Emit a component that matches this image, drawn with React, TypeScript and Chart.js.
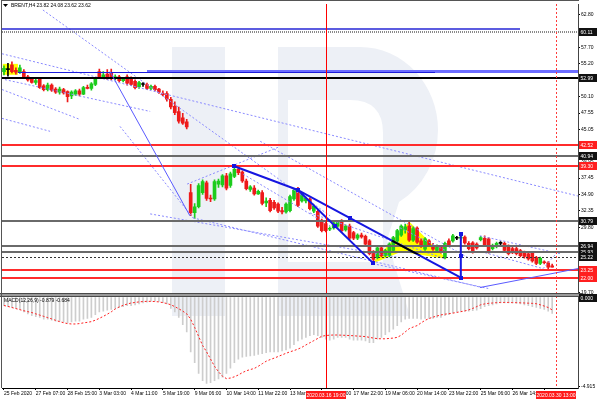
import React, { useEffect, useRef } from 'react';
import { Chart, registerables } from 'chart.js';

Chart.register(...registerables);

// ---------------- data ----------------
const opens = [
  54.0, 54.3, 55.0, 54.2, 53.9, 54.0, 53.2, 52.9, 52.3, 52.8,
  51.8, 51.2, 51.9, 51.3, 50.8, 51.2, 50.9, 50.2, 50.5, 51.0,
  50.5, 51.5, 51.4, 52.0, 54.0, 53.2, 53.6, 53.9, 52.9, 53.2,
  52.6, 53.2, 52.8, 52.5, 51.6, 52.0, 52.0, 51.4, 51.7, 51.3,
  50.6, 50.6, 49.7, 48.6, 47.8, 46.8, 46.2, 35.2, 32.1, 33.0,
  35.2, 36.7, 34.3, 34.2, 36.5, 36.4, 37.8, 36.3, 37.7, 38.8,
  38.4, 37.0, 35.7, 35.9, 35.0, 35.2, 33.6, 34.0, 33.7, 33.4,
  32.4, 32.2, 32.4, 34.2, 35.5, 33.9, 33.9, 34.2, 32.3, 32.3,
  30.8, 30.4, 29.5, 29.7, 30.0, 30.8, 29.4, 30.0, 29.0, 28.1,
  28.6, 28.4, 27.7, 25.9, 25.1, 26.6, 25.4, 25.4, 26.2, 27.7,
  28.6, 29.4, 30.0, 27.8, 29.7, 27.7, 26.4, 27.7, 27.0, 26.2,
  26.9, 25.1, 27.7, 27.7, 28.1, 28.1, 28.3, 27.3, 27.4, 27.2,
  27.9, 28.1, 28.0, 26.5, 26.8, 27.3, 27.3, 26.9, 26.5, 26.5,
  26.2, 25.8, 25.7, 25.8, 25.1, 24.2, 24.4, 24.3, 23.82,
];
const highs = [
  54.9, 55.3, 55.5, 54.6, 55.0, 54.3, 53.4, 53.1, 52.8, 53.0,
  52.0, 52.2, 52.1, 51.5, 51.6, 51.4, 51.0, 51.0, 51.2, 51.3,
  51.7, 51.9, 52.3, 53.0, 54.4, 54.0, 54.3, 54.4, 53.5, 53.4,
  53.0, 53.5, 53.2, 52.7, 52.5, 52.3, 52.2, 51.9, 51.9, 51.4,
  51.0, 50.9, 50.0, 49.3, 48.5, 47.5, 46.6, 36.5, 33.5, 36.6,
  37.2, 37.0, 34.8, 37.2, 37.3, 38.0, 38.2, 38.4, 39.3, 39.0,
  38.6, 37.3, 36.3, 36.3, 35.6, 35.5, 34.4, 34.3, 34.0, 33.6,
  32.9, 33.6, 34.8, 35.8, 36.0, 35.2, 34.5, 34.4, 33.3, 32.5,
  31.1, 30.7, 29.9, 30.7, 30.9, 31.0, 30.2, 30.3, 29.2, 28.8,
  28.9, 28.6, 27.9, 26.2, 26.9, 26.9, 26.4, 27.4, 28.4, 29.5,
  30.2, 30.3, 30.6, 29.9, 29.9, 28.0, 28.2, 27.9, 27.3, 27.1,
  27.0, 27.5, 28.0, 28.7, 28.4, 28.6, 28.5, 27.6, 27.6, 27.4,
  28.4, 28.5, 28.2, 27.2, 27.5, 27.6, 27.5, 27.1, 26.7, 26.7,
  26.4, 26.1, 25.9, 26.0, 25.3, 25.2, 24.6, 24.5, 24.08,
];
const lows = [
  53.5, 53.3, 53.8, 53.6, 53.7, 52.9, 52.5, 52.2, 52.0, 51.4,
  51.0, 51.0, 50.9, 50.6, 50.5, 50.5, 49.3, 49.8, 50.3, 50.2,
  50.4, 51.3, 51.1, 51.8, 52.9, 53.0, 52.8, 52.7, 52.7, 52.4,
  52.4, 51.9, 51.8, 51.3, 51.4, 51.7, 51.2, 51.2, 51.0, 50.6,
  50.2, 49.4, 48.2, 47.3, 46.0, 45.8, 45.1, 31.6, 31.2, 32.8,
  34.9, 34.0, 33.8, 34.0, 36.0, 36.1, 35.6, 36.0, 37.5, 38.0,
  36.8, 35.6, 35.4, 34.8, 34.9, 33.3, 33.0, 32.2, 32.6, 32.1,
  31.9, 32.0, 32.2, 34.0, 33.0, 33.7, 33.6, 32.5, 32.1, 29.8,
  29.1, 29.1, 29.3, 29.5, 29.8, 29.1, 29.2, 27.9, 27.9, 27.9,
  28.1, 27.0, 25.5, 24.3, 24.9, 25.2, 25.2, 25.2, 26.0, 27.5,
  28.4, 28.9, 27.6, 27.6, 27.3, 26.7, 26.2, 26.8, 26.2, 26.0,
  25.8, 24.9, 26.8, 27.5, 27.9, 27.8, 27.2, 26.3, 25.8, 26.4,
  27.7, 26.8, 25.8, 26.3, 26.6, 27.0, 26.0, 25.5, 25.7, 25.5,
  25.2, 25.0, 24.7, 24.4, 24.0, 24.0, 24.1, 23.4, 23.62,
];
const closes = [
  54.5, 54.3, 54.0, 53.9, 54.6, 53.1, 52.7, 52.3, 52.6, 51.5,
  51.2, 51.9, 51.1, 50.8, 51.3, 50.7, 50.1, 50.8, 51.0, 50.5,
  51.5, 51.4, 52.1, 52.8, 53.2, 53.5, 53.0, 52.9, 53.2, 52.6,
  52.8, 52.2, 52.0, 51.5, 52.3, 52.0, 51.4, 51.7, 51.2, 50.8,
  50.4, 49.7, 48.5, 47.6, 46.3, 46.0, 45.4, 32.1, 33.0, 36.3,
  36.9, 34.3, 34.2, 36.9, 37.0, 37.8, 35.9, 38.1, 38.8, 38.3,
  37.0, 35.8, 36.1, 35.0, 35.4, 33.5, 33.9, 32.4, 32.8, 32.3,
  32.2, 33.4, 34.6, 35.6, 33.2, 35.0, 34.3, 32.7, 33.1, 30.0,
  29.3, 29.3, 29.6, 30.5, 30.8, 29.3, 30.0, 28.1, 28.1, 28.6,
  28.3, 27.2, 25.7, 24.8, 26.6, 25.4, 26.2, 27.2, 28.2, 29.3,
  30.0, 29.9, 27.8, 29.6, 27.5, 26.9, 28.0, 27.0, 26.4, 26.9,
  26.1, 27.3, 27.0, 28.5, 28.1, 28.3, 27.4, 26.5, 26.0, 26.6,
  28.2, 27.0, 26.0, 27.0, 27.3, 27.3, 26.2, 25.7, 25.9, 25.7,
  25.4, 25.3, 24.9, 24.6, 24.2, 25.0, 24.3, 23.6, 23.62,
];
const macdMain = [
  -0.45, -0.5, -0.55, -0.6, -0.65, -0.8, -0.9, -1.0, -1.05, -1.1,
  -1.2, -1.2, -1.25, -1.3, -1.3, -1.35, -1.4, -1.35, -1.3, -1.3,
  -1.2, -1.15, -1.1, -0.95, -0.8, -0.75, -0.7, -0.65, -0.6, -0.55,
  -0.5, -0.45, -0.45, -0.4, -0.35, -0.3, -0.25, -0.2, -0.2, -0.22,
  -0.28, -0.35, -0.6, -0.8, -1.1, -1.5, -1.9, -3.0, -3.6, -4.2,
  -4.6, -4.75, -4.7, -4.6, -4.5, -4.4, -4.2, -3.9, -3.6, -3.4,
  -3.3, -3.25, -3.22, -3.2, -3.15, -3.1, -3.05, -3.0, -3.0, -3.0,
  -2.95, -2.9, -2.8, -2.6, -2.4, -2.3, -2.2, -2.1, -2.05, -2.1,
  -2.2, -2.3, -2.35, -2.3, -2.2, -2.2, -2.2, -2.3, -2.35, -2.35,
  -2.35, -2.4, -2.5, -2.5, -2.3, -2.2, -2.05, -1.9, -1.75, -1.55,
  -1.35, -1.2, -1.15, -1.15, -1.15, -1.2, -1.15, -1.15, -1.15, -1.1,
  -1.1, -1.0, -0.95, -0.85, -0.8, -0.75, -0.75, -0.75, -0.72, -0.7,
  -0.62, -0.5, -0.45, -0.4, -0.35, -0.3, -0.3, -0.3, -0.3, -0.32,
  -0.35, -0.4, -0.45, -0.5, -0.55, -0.6, -0.65, -0.75, -0.879,
];
const macdSignal = [
  -0.44, -0.49, -0.55, -0.61, -0.67, -0.73, -0.78, -0.83, -0.90, -0.97,
  -1.04, -1.11, -1.18, -1.26, -1.33, -1.39, -1.44, -1.46, -1.46, -1.44,
  -1.40, -1.37, -1.33, -1.25, -1.15, -1.04, -0.92, -0.79, -0.63, -0.52,
  -0.43, -0.36, -0.30, -0.27, -0.24, -0.22, -0.21, -0.21, -0.22, -0.24,
  -0.28, -0.33, -0.40, -0.50, -0.62, -0.75, -0.90, -1.20, -1.65, -2.15,
  -2.65, -3.00, -3.40, -3.80, -4.10, -4.35, -4.48, -4.45, -4.38, -4.28,
  -4.15, -4.05, -3.98, -3.92, -3.80, -3.66, -3.52, -3.43, -3.35, -3.26,
  -3.17, -3.08, -3.00, -2.93, -2.85, -2.75, -2.62, -2.50, -2.38, -2.26,
  -2.14, -2.10, -2.08, -2.07, -2.07, -2.08, -2.09, -2.10, -2.11, -2.13,
  -2.14, -2.16, -2.20, -2.24, -2.27, -2.28, -2.28, -2.26, -2.24, -2.20,
  -2.08, -1.90, -1.72, -1.63, -1.55, -1.40, -1.26, -1.16, -1.08, -1.02,
  -0.96, -0.92, -0.89, -0.86, -0.82, -0.78, -0.74, -0.68, -0.60, -0.50,
  -0.40, -0.35, -0.32, -0.30, -0.28, -0.27, -0.27, -0.27, -0.28, -0.28,
  -0.29, -0.30, -0.31, -0.32, -0.34, -0.40, -0.47, -0.55, -0.684,
];
const xTickLabels = [
  '25 Feb 2020', '27 Feb 07:00', '28 Feb 15:00', '3 Mar 03:00', '4 Mar 11:00',
  '5 Mar 19:00', '9 Mar 06:00', '10 Mar 14:00', '11 Mar 22:00', '13 Mar 06:00',
  '16 Mar 14:00', '17 Mar 22:00', '19 Mar 06:00', '20 Mar 14:00', '23 Mar 22:00',
  '25 Mar 06:00', '26 Mar 14:00', '27 Mar 22:00',
];
const X_TICK_STEP = 8;
const SLOT_COUNT = 145;
const priceTicks = [62.8, 57.7, 55.2, 50.1, 47.55, 45.05, 39.95, 37.45, 34.9, 32.35, 29.8, 24.75, 19.7];
const macdTicks = [-4.915];
const PRICE_MIN = 19.37;
const PRICE_MAX = 64.5;
const MACD_MIN = -5.0;
const MACD_MAX = 0.17;

// horizontal levels
const dottedGreyLevels = [60.11];
const blackLevels = [52.99];
const greyLevels = [40.94, 30.79, 26.94, 25.93];
const dashedLevels = [25.22];
const redLevels = [42.52, 39.3, 23.25, 22.0];

// objects in (bar index, price)
const blueTopLine = [-0.5, 129.9, 60.59];
const blueThinLevel = [3.5, 108.5, 54.0];
const blueWideLevel = [36, 144.5, 54.05];
const waveLines = [
  [58, 39.3, 74, 35.6],
  [74, 35.6, 115, 22.0],
  [74, 35.6, 93, 24.2],
  [115, 28.8, 115, 22.0],
];
const waveNodes = [[58, 39.3], [74, 35.6], [83.3, 30.0], [87.1, 31.25], [93, 24.2], [115, 28.8], [115, 25.4], [115, 22.0]];
const thinLines = [
  [26.7, 54.0, 46.8, 31.6],
  [119.8, 20.45, 144.5, 23.4],
];
const dottedLines = [
  [-0.5, 56.77, 144.5, 34.67],
  [9.8, 63.57, 82.1, 31.58],
  [0.25, 52.75, 36.8, 47.81],
  [-0.5, 51.21, 19.1, 46.57],
  [-0.5, 46.73, 11.6, 44.72],
  [29.2, 45.49, 47.6, 31.27],
  [46.1, 36.52, 69.0, 42.24],
  [47.6, 31.27, 120.3, 20.45],
  [36.8, 31.89, 99.7, 25.09],
  [64.5, 43.17, 117.3, 24.93],
  [60.2, 38.07, 82.1, 30.03],
  [119.8, 28.49, 140.0, 25.71],
  [121.1, 25.86, 135.7, 23.39],
  [135.7, 23.39, 139.0, 25.71],
  [92.9, 24.16, 121.9, 20.3],
  [99.7, 29.72, 112.3, 25.86],
  [77.0, 32.04, 111.0, 24.93],
];
const yellowBox = [-0.3, 3.5, 55.2, 53.5];
const yellowTriangle = [[92.5, 24.1], [102, 30.7], [111.5, 24.9], [100, 26.0]];
const markerIdx = [81, 139];
const markerTimes = ['2020.03.16 19:00', '2020.03.30 13:00'];
const headerText = 'BRENT,H4 23.82 24.08 23.62 23.62';
const macdText = 'MACD(12,26,9) -0.879 -0.684';

// ---------------- styling ----------------
const FONT = '"Liberation Sans", Arial, sans-serif';
const BULL = '#1ccc1c';
const BEAR = '#ee1a1a';
const candleColors = opens.map((o, i) => (closes[i] > o ? BULL : closes[i] < o ? BEAR : '#000000'));
const slotLabels = Array.from({ length: SLOT_COUNT }, (_, i) =>
  i % X_TICK_STEP === 0 ? xTickLabels[i / X_TICK_STEP] ?? '' : ''
);
const xTickIdx = xTickLabels.map((_, k) => k * X_TICK_STEP);

const X = (c: any, i: number) => c.scales.x.getPixelForValue(i);
const P = (c: any, v: number) => c.scales.y.getPixelForValue(v);
const M = (c: any, v: number) => c.scales.y2.getPixelForValue(v);

function clipMain(c: any, ctx: CanvasRenderingContext2D) {
  const a = c.chartArea;
  const y = c.scales.y;
  ctx.beginPath();
  ctx.rect(a.left, y.top, a.right - a.left, y.bottom - y.top);
  ctx.clip();
}
function hLine(c: any, ctx: CanvasRenderingContext2D, v: number, color: string, w: number, dash: number[] = [], i0?: number, i1?: number) {
  const a = c.chartArea;
  const y = Math.round(P(c, v)) + (w % 2 === 1 ? 0.5 : 0);
  ctx.strokeStyle = color;
  ctx.lineWidth = w;
  ctx.setLineDash(dash);
  ctx.beginPath();
  ctx.moveTo(i0 === undefined ? a.left : X(c, i0), y);
  ctx.lineTo(i1 === undefined ? a.right : X(c, i1), y);
  ctx.stroke();
}
function seg(c: any, ctx: CanvasRenderingContext2D, l: number[], color: string, w: number, dash: number[] = []) {
  ctx.strokeStyle = color;
  ctx.lineWidth = w;
  ctx.setLineDash(dash);
  ctx.beginPath();
  ctx.moveTo(X(c, l[0]), P(c, l[1]));
  ctx.lineTo(X(c, l[2]), P(c, l[3]));
  ctx.stroke();
}
function trianglePath(c: any, ctx: CanvasRenderingContext2D) {
  ctx.beginPath();
  yellowTriangle.forEach(([i, p], k) => (k ? ctx.lineTo(X(c, i), P(c, p)) : ctx.moveTo(X(c, i), P(c, p))));
  ctx.closePath();
}
function axisBox(ctx: CanvasRenderingContext2D, x: number, y: number, text: string, bg: string) {
  const yy = Math.round(y);
  ctx.fillStyle = bg;
  ctx.fillRect(x, yy - 4, 18, 8);
  ctx.fillStyle = '#ffffff';
  ctx.font = `5px ${FONT}`;
  ctx.textAlign = 'left';
  ctx.textBaseline = 'middle';
  ctx.fillText(text, x + 1.5, yy + 0.5);
}

const mt4Plugin = {
  id: 'mt4Decor',
  beforeDraw(c: any) {
    const ctx = c.ctx as CanvasRenderingContext2D;
    ctx.save();
    ctx.fillStyle = '#ffffff';
    ctx.fillRect(0, 0, c.width, c.height);
    // faint logo watermark
    ctx.fillStyle = '#edf0f6';
    ctx.fillRect(172, 47, 53, 269);
    ctx.beginPath();
    ctx.moveTo(278, 47);
    ctx.lineTo(360, 47);
    ctx.ellipse(360, 130, 78, 83, 0, -Math.PI / 2, Math.PI / 3);
    ctx.lineTo(387, 240);
    ctx.lineTo(410, 316);
    ctx.lineTo(278, 316);
    ctx.closePath();
    ctx.moveTo(288, 100);
    ctx.lineTo(350, 100);
    ctx.quadraticCurveTo(383, 100, 383, 133);
    ctx.lineTo(383, 262);
    ctx.lineTo(288, 262);
    ctx.closePath();
    ctx.fill('evenodd');
    ctx.restore();
  },
  beforeDatasetsDraw(c: any) {
    const ctx = c.ctx as CanvasRenderingContext2D;
    ctx.save();
    clipMain(c, ctx);
    ctx.fillStyle = '#ffff00';
    const [i0, i1, p0, p1] = yellowBox;
    ctx.fillRect(X(c, i0), P(c, p0), X(c, i1) - X(c, i0), P(c, p1) - P(c, p0));
    trianglePath(c, ctx);
    ctx.fill();
    ctx.restore();
  },
  afterDatasetsDraw(c: any) {
    const ctx = c.ctx as CanvasRenderingContext2D;
    const a = c.chartArea;
    ctx.save();
    clipMain(c, ctx);
    dottedLines.forEach((l) => seg(c, ctx, l, '#8a8aff', 1, [2, 2]));
    dottedGreyLevels.forEach((v) => hLine(c, ctx, v, '#8a8a8a', 2, [1, 1]));
    hLine(c, ctx, blueTopLine[2], '#2626d6', 1.5, [], blueTopLine[0], blueTopLine[1]);
    hLine(c, ctx, blueWideLevel[2], '#6c6cff', 3, [], blueWideLevel[0], blueWideLevel[1]);
    hLine(c, ctx, blueThinLevel[2], '#1c1cdc', 1, [], blueThinLevel[0], blueThinLevel[1]);
    blackLevels.forEach((v) => hLine(c, ctx, v, '#000000', 2));
    greyLevels.forEach((v) => hLine(c, ctx, v, '#6a6a6a', 2));
    dashedLevels.forEach((v) => hLine(c, ctx, v, '#333333', 1, [2, 2]));
    redLevels.forEach((v) => hLine(c, ctx, v, '#ff2b2b', 2));
    thinLines.forEach((l) => seg(c, ctx, l, '#5a5aff', 1));
    waveLines.forEach((l) => seg(c, ctx, l, '#1616e0', 2));
    // part of the long wave line over the yellow figure looks black
    ctx.save();
    trianglePath(c, ctx);
    ctx.clip();
    seg(c, ctx, waveLines[1], '#000000', 2);
    ctx.restore();
    ctx.setLineDash([]);
    ctx.fillStyle = '#1616e0';
    waveNodes.forEach(([i, p]) => ctx.fillRect(Math.round(X(c, i)) - 2, Math.round(P(c, p)) - 2, 4, 4));
    ctx.restore();

    // vertical time markers through both panes
    ctx.save();
    ctx.beginPath();
    ctx.rect(a.left, a.top, a.right - a.left, a.bottom - a.top);
    ctx.clip();
    ctx.lineWidth = 1;
    ctx.strokeStyle = '#ff0000';
    let x = Math.round(X(c, markerIdx[0])) + 0.5;
    ctx.beginPath();
    ctx.moveTo(x, a.top);
    ctx.lineTo(x, a.bottom);
    ctx.stroke();
    ctx.strokeStyle = '#ff3a3a';
    ctx.setLineDash([2, 2]);
    x = Math.round(X(c, markerIdx[1])) + 0.5;
    ctx.beginPath();
    ctx.moveTo(x, a.top);
    ctx.lineTo(x, a.bottom);
    ctx.stroke();
    ctx.restore();
  },
  afterDraw(c: any) {
    const ctx = c.ctx as CanvasRenderingContext2D;
    const a = c.chartArea;
    const yS = c.scales.y;
    const y2 = c.scales.y2;
    ctx.save();
    // pane separator
    const sy = Math.round(yS.bottom);
    ctx.fillStyle = '#9a9a9a';
    ctx.fillRect(0, sy - 1, a.right + 4, 3);
    ctx.fillStyle = '#4a4a4a';
    ctx.fillRect(0, sy - 1, a.right + 4, 1);
    ctx.fillRect(0, sy + 2, a.right + 4, 1);
    // frame
    ctx.fillStyle = '#555555';
    ctx.fillRect(1, 0, 1, a.bottom);
    ctx.fillRect(1, 0, a.right, 1);

    const bx = yS.left + 1;
    dottedGreyLevels.forEach((v) => axisBox(ctx, bx, P(c, v), v.toFixed(2), '#111111'));
    blackLevels.forEach((v) => axisBox(ctx, bx, P(c, v), v.toFixed(2), '#111111'));
    greyLevels.forEach((v) => axisBox(ctx, bx, P(c, v), v.toFixed(2), '#111111'));
    dashedLevels.forEach((v) => axisBox(ctx, bx, P(c, v), v.toFixed(2), '#111111'));
    redLevels.forEach((v) => axisBox(ctx, bx, P(c, v), v.toFixed(2), '#ff1f1f'));
    axisBox(ctx, bx, M(c, 0), (0).toFixed(3), '#111111');

    // header
    ctx.fillStyle = '#000000';
    ctx.beginPath();
    ctx.moveTo(3, 4);
    ctx.lineTo(8, 4);
    ctx.lineTo(5.5, 7);
    ctx.closePath();
    ctx.fill();
    ctx.font = `5px ${FONT}`;
    ctx.textAlign = 'left';
    ctx.textBaseline = 'middle';
    ctx.fillText(headerText, 11, 6);
    ctx.fillText(macdText, 4, y2.top + 6);

    // red time labels
    markerIdx.forEach((idx, k) => {
      const cx = Math.round(X(c, idx));
      const w = 40;
      ctx.fillStyle = '#ff1a1a';
      ctx.fillRect(cx - w / 2, a.bottom + 3, w, 8);
      ctx.fillStyle = '#ffffff';
      ctx.textAlign = 'center';
      ctx.fillText(markerTimes[k], cx, a.bottom + 7.5);
    });
    ctx.restore();
  },
};

export default function App() {
  const ref = useRef<HTMLCanvasElement | null>(null);
  useEffect(() => {
    document.body.style.margin = '0';
    const canvas = ref.current;
    if (!canvas) return;
    const tickFont = { family: FONT, size: 5 };
    const chart = new Chart(canvas, {
      type: 'bar',
      data: {
        labels: slotLabels,
        datasets: [
          {
            type: 'bar',
            label: 'wicks',
            data: lows.map((l, i) => [l, highs[i]]),
            backgroundColor: candleColors,
            barThickness: 1,
            grouped: false,
            yAxisID: 'y',
            order: 3,
          },
          {
            type: 'bar',
            label: 'bodies',
            data: opens.map((o, i) => [Math.min(o, closes[i]), Math.max(o, closes[i])]),
            backgroundColor: candleColors,
            barThickness: 3,
            minBarLength: 1,
            grouped: false,
            yAxisID: 'y',
            order: 2,
          },
          {
            type: 'bar',
            label: 'MACD',
            data: macdMain,
            backgroundColor: '#cdcdcd',
            barThickness: 1,
            grouped: false,
            yAxisID: 'y2',
            order: 4,
          },
          {
            type: 'line',
            label: 'Signal',
            data: macdSignal,
            borderColor: '#ff2020',
            borderWidth: 1,
            borderDash: [2, 2],
            pointRadius: 0,
            tension: 0,
            yAxisID: 'y2',
            order: 1,
          },
        ] as any,
      },
      options: {
        responsive: false,
        animation: false,
        devicePixelRatio: 1,
        events: [],
        layout: { padding: { left: 2, top: 2, right: 0, bottom: 0 } },
        plugins: { legend: { display: false }, tooltip: { enabled: false } },
        scales: {
          x: {
            type: 'category',
            offset: true,
            grid: { display: true, offset: false, drawOnChartArea: false, drawTicks: true, tickLength: 2, color: '#000000' },
            border: { display: true, color: '#000000' },
            ticks: { autoSkip: false, maxRotation: 0, minRotation: 0, align: 'start', padding: 1, font: tickFont, color: '#000000' },
            afterBuildTicks: (s: any) => {
              s.ticks = xTickIdx.map((v) => ({ value: v }));
            },
            afterFit: (s: any) => {
              s.height = 13;
            },
          },
          y: {
            type: 'linear',
            position: 'right',
            stack: 'panes',
            stackWeight: 292,
            min: PRICE_MIN,
            max: PRICE_MAX,
            grid: { display: true, drawOnChartArea: false, tickLength: 2, color: '#000000' },
            border: { display: true, color: '#444444' },
            ticks: { padding: 1, font: tickFont, color: '#000000', callback: (v: any) => Number(v).toFixed(2) },
            afterBuildTicks: (s: any) => {
              s.ticks = priceTicks.map((v) => ({ value: v }));
            },
            afterFit: (s: any) => {
              s.width = 22;
            },
          },
          y2: {
            type: 'linear',
            position: 'right',
            stack: 'panes',
            stackWeight: 94,
            min: MACD_MIN,
            max: MACD_MAX,
            grid: { display: true, drawOnChartArea: false, tickLength: 2, color: '#000000' },
            border: { display: true, color: '#444444' },
            ticks: { padding: 1, font: tickFont, color: '#000000', callback: (v: any) => Number(v).toFixed(3) },
            afterBuildTicks: (s: any) => {
              s.ticks = macdTicks.map((v) => ({ value: v }));
            },
            afterFit: (s: any) => {
              s.width = 22;
            },
          },
        },
      } as any,
      plugins: [mt4Plugin],
    });
    return () => chart.destroy();
  }, []);
  return <canvas ref={ref} width={600} height={401} style={{ display: 'block' }} />;
}
